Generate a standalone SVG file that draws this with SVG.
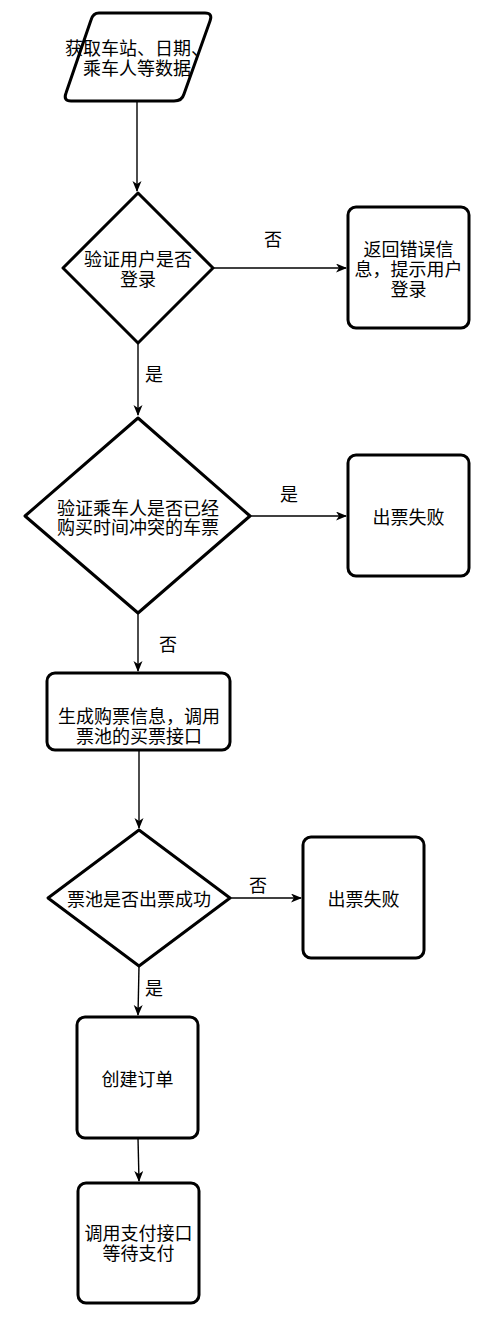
<svg xmlns="http://www.w3.org/2000/svg" width="491" height="1325" viewBox="0 0 491 1325">
<style>
.shape{fill:#ffffff;stroke:#000000;stroke-width:3;stroke-linejoin:round}
.t{font-family:"Noto Sans CJK SC","Liberation Sans",sans-serif;font-size:18px;fill:#000000;text-anchor:middle;dominant-baseline:central}
.edge{fill:none;stroke:#000000;stroke-width:1.4;marker-end:url(#arr)}
</style>
<defs>
<marker id="arr" markerWidth="12" markerHeight="10" refX="10" refY="4.5" orient="auto" markerUnits="userSpaceOnUse">
<path d="M0,0 L11,4.5 L0,9 L3,4.5 Z" fill="#000000"/>
</marker>
</defs>
<rect width="491" height="1325" fill="#ffffff"/>
<g id="connectors">
<path class="edge" d="M137,102 L137,191"/>
<path class="edge" d="M213,268 L346,268"/>
<path class="edge" d="M138,343 L138,415"/>
<path class="edge" d="M250,516 L346,516"/>
<path class="edge" d="M138,613 L138,671"/>
<path class="edge" d="M139,750 L139,828"/>
<path class="edge" d="M230,898 L301,898"/>
<path class="edge" d="M139,966 L138,1015"/>
<path class="edge" d="M138,1138 L139,1181"/>
<text class="t" x="273" y="238">否</text>
<text class="t" x="154" y="373">是</text>
<text class="t" x="289" y="493">是</text>
<text class="t" x="168" y="643">否</text>
<text class="t" x="258" y="884">否</text>
<text class="t" x="154" y="987">是</text>
</g>
<g id="n_start">
<path class="shape" d="M99,13 L205,13 Q213,13 210,21 L184,94 Q182,101 174,101 L71,101 Q63,101 66,93 L91,20 Q93,13 99,13 Z"/>
<text class="t" x="137" y="47">获取车站、日期、<tspan x="137" dy="20">乘车人等数据</tspan></text>
</g>
<g id="n_login">
<path class="shape" d="M138,193 L213,268 L138,343 L63,268 Z"/>
<text class="t" x="138" y="258">验证用户是否<tspan x="138" dy="20">登录</tspan></text>
</g>
<g id="n_err">
<rect class="shape" x="348" y="207" width="121" height="121" rx="8"/>
<text class="t" x="408.5" y="248">返回错误信<tspan x="408.5" dy="20">息，提示用户</tspan><tspan x="408.5" dy="20">登录</tspan></text>
</g>
<g id="n_conflict">
<path class="shape" d="M138,418 L250,516 L138,613 L25,516 Z"/>
<text class="t" x="138" y="507">验证乘车人是否已经<tspan x="138" dy="19">购买时间冲突的车票</tspan></text>
</g>
<g id="n_fail1">
<rect class="shape" x="348" y="455" width="121" height="121" rx="8"/>
<text class="t" x="408.5" y="516">出票失败</text>
</g>
<g id="n_gen">
<rect class="shape" x="47" y="673" width="183" height="77" rx="8"/>
<text class="t" x="139" y="715">生成购票信息，调用<tspan x="139" dy="20">票池的买票接口</tspan></text>
</g>
<g id="n_pool">
<path class="shape" d="M139,830 L230,898 L139,966 L48,898 Z"/>
<text class="t" x="139" y="898">票池是否出票成功</text>
</g>
<g id="n_fail2">
<rect class="shape" x="303" y="837" width="121" height="121" rx="8"/>
<text class="t" x="363.5" y="898">出票失败</text>
</g>
<g id="n_order">
<rect class="shape" x="77" y="1017" width="121" height="121" rx="8"/>
<text class="t" x="137.5" y="1078">创建订单</text>
</g>
<g id="n_pay">
<rect class="shape" x="78" y="1183" width="121" height="120" rx="8"/>
<text class="t" x="138.5" y="1232">调用支付接口<tspan x="138.5" dy="20">等待支付</tspan></text>
</g>
</svg>
